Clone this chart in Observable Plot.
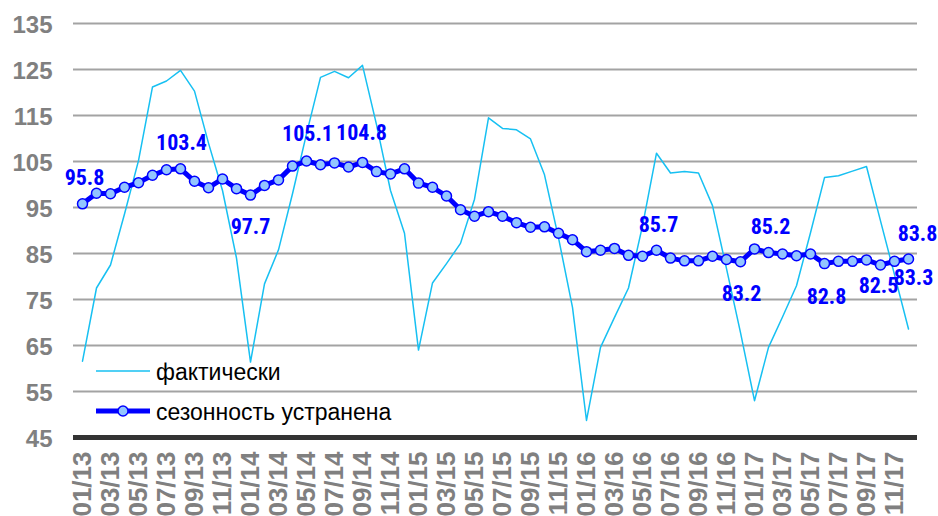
<!DOCTYPE html>
<html><head><meta charset="utf-8">
<script src="https://cdn.jsdelivr.net/npm/d3@7"></script>
<script src="https://cdn.jsdelivr.net/npm/@observablehq/plot@0.6"></script>
<style>
body{margin:0;background:#fff;}
#wrap{position:relative;width:938px;height:516px;overflow:hidden;background:#fff;}
#legend{position:absolute;left:0;top:0;pointer-events:none;}
</style></head><body><div id="wrap"></div>
<script>
const months = [
"01/13","02/13","03/13","04/13","05/13","06/13","07/13","08/13","09/13","10/13","11/13","12/13",
"01/14","02/14","03/14","04/14","05/14","06/14","07/14","08/14","09/14","10/14","11/14","12/14",
"01/15","02/15","03/15","04/15","05/15","06/15","07/15","08/15","09/15","10/15","11/15","12/15",
"01/16","02/16","03/16","04/16","05/16","06/16","07/16","08/16","09/16","10/16","11/16","12/16",
"01/17","02/17","03/17","04/17","05/17","06/17","07/17","08/17","09/17","10/17","11/17","12/17"];
const actual = [
61.6,77.5,82.5,93.6,105.2,121.2,122.5,124.8,120.3,109.0,98.7,84.0,
61.4,78.4,85.8,98.0,111.0,123.3,124.6,123.2,125.9,113.0,98.7,89.4,
64.0,78.6,82.8,87.2,96.8,114.5,112.2,111.9,109.9,102.1,88.4,73.3,
48.7,64.6,71.1,77.5,91.0,106.8,102.5,102.8,102.5,95.4,81.7,67.8,
53.0,64.6,71.2,78.0,89.5,101.5,101.9,102.9,103.9,92.1,80.4,68.6];
const adjusted = [
95.8,98.1,98.0,99.4,100.4,102.0,103.2,103.4,100.7,99.3,101.2,99.1,
97.7,99.8,101.0,104.0,105.1,104.3,104.7,103.8,104.8,102.8,102.3,103.4,
100.3,99.4,97.5,94.5,93.1,94.1,93.1,91.7,90.7,90.8,89.4,88.0,
85.4,85.7,86.1,84.6,84.4,85.7,84.0,83.4,83.4,84.4,83.7,83.2,
86.0,85.2,84.9,84.5,84.9,82.8,83.3,83.3,83.6,82.5,83.3,83.8];
const xTickLabels = ["01/13","03/13","05/13","07/13","09/13","11/13","01/14","03/14","05/14","07/14","09/14","11/14",
"01/15","03/15","05/15","07/15","09/15","11/15","01/16","03/16","05/16","07/16","09/16","11/16",
"01/17","03/17","05/17","07/17","09/17","11/17"];
const yTicks = [45,55,65,75,85,95,105,115,125,135];
const seriesNames = ["фактически","сезонность устранена"];
// months whose adjusted value is labelled
const labelledMonths = ["01/13","08/13","01/14","05/14","09/14","06/16","12/16","02/17","06/17","10/17","11/17","12/17"];

// label placement (style only)
const labelOffset = {
  "01/13":[2,-26],"08/13":[1,-26],"01/14":[0,32],"05/14":[1,-27],"09/14":[-1,-29],
  "06/16":[2,-25],"12/16":[1,32],"02/17":[2,-26],"06/17":[2,33],"10/17":[-2,21],
  "11/17":[19,17],"12/17":[9,-25]
};

const data = months.map((m,i)=>({month:m, actual:actual[i], adjusted:adjusted[i]}));
const labelData = labelledMonths.map(m => {
  const i = months.indexOf(m);
  return {month:m, value:adjusted[i], text:adjusted[i].toFixed(1)};
});

const blue = "#0000ff", cyan = "#17c0f2", gray = "#808080";
const labelFont = "'Liberation Sans Narrow','Arial Narrow','Roboto Condensed',sans-serif";

const chart = Plot.plot({
  width:938, height:516,
  marginLeft:73, marginRight:21, marginTop:23, marginBottom:79,
  x:{type:"point", domain:months, padding:0.5},
  y:{domain:[45,135]},
  style:{fontFamily:"'Liberation Sans', Arial, sans-serif", background:"#fff"},
  marks:[
    Plot.ruleY(yTicks.filter(v=>v>45), {stroke:"#a3a3a3", strokeWidth:2}),
    Plot.axisY(yTicks, {tickSize:0, tickPadding:21, fontSize:24, fontWeight:"bold", color:gray, label:null, dy:2}),
    Plot.axisX(xTickLabels, {tickSize:0, tickRotate:-90, fontSize:26, fontWeight:"bold", color:gray, label:null, tickPadding:14}),
    Plot.line(data, {x:"month", y:"actual", stroke:cyan, strokeWidth:1.5}),
    Plot.line(data, {x:"month", y:"adjusted", stroke:blue, strokeWidth:5, strokeLinejoin:"round"}),
    Plot.dot(data, {x:"month", y:"adjusted", r:5, fill:"#93c5ff", stroke:blue, strokeWidth:1.5}),
    Plot.ruleY([45], {stroke:"#333333", strokeWidth:5}),
    ...labelData.map(d => Plot.text([d], {x:"month", y:"value", text:"text",
      dx:labelOffset[d.month][0], dy:labelOffset[d.month][1],
      fill:blue, fontSize:22, fontWeight:"bold", fontFamily:labelFont}))
  ]
});
const wrap = document.getElementById("wrap");
wrap.appendChild(chart);

// legend overlay
const ns = "http://www.w3.org/2000/svg";
const lg = document.createElementNS(ns,"svg");
lg.setAttribute("id","legend"); lg.setAttribute("width",938); lg.setAttribute("height",516);
lg.innerHTML = `
<line x1="96" x2="150" y1="371" y2="371" stroke="${cyan}" stroke-width="1.5"/>
<text x="156" y="372" dy="0.35em" font-family="'Liberation Sans', Arial, sans-serif" font-size="23" fill="#000">${seriesNames[0]}</text>
<line x1="96" x2="150" y1="411" y2="411" stroke="${blue}" stroke-width="5"/>
<circle cx="123" cy="411" r="5" fill="#93c5ff" stroke="${blue}" stroke-width="1.5"/>
<text x="156" y="412" dy="0.35em" font-family="'Liberation Sans', Arial, sans-serif" font-size="23" fill="#000">${seriesNames[1]}</text>`;
wrap.appendChild(lg);
</script></body></html>
